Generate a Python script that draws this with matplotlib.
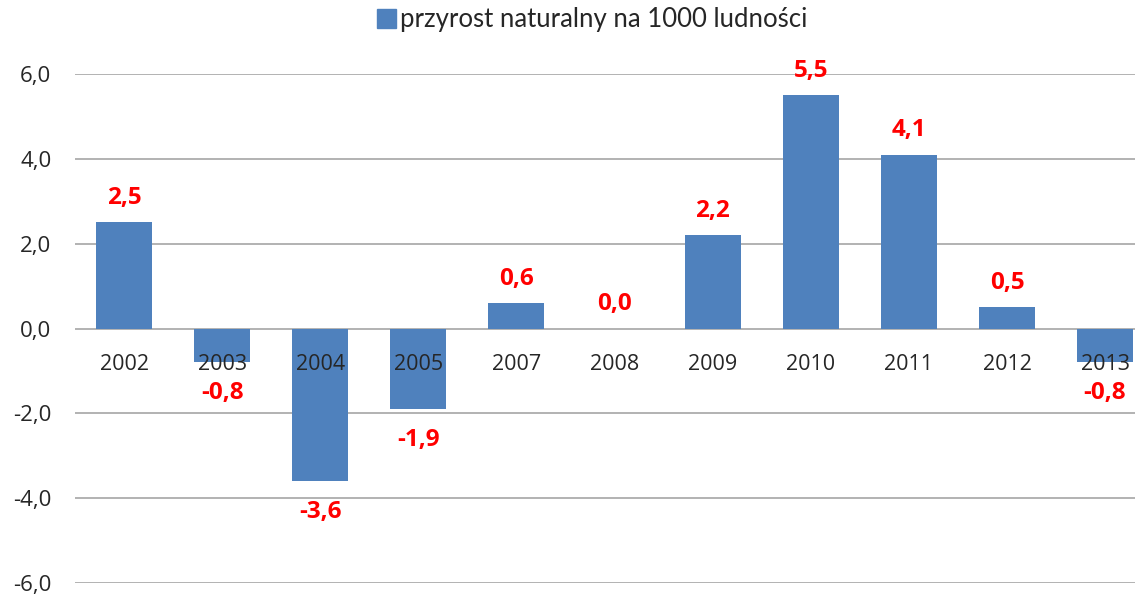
import matplotlib.pyplot as plt
from matplotlib.patches import Patch

# Data
years = ['2002', '2003', '2004', '2005', '2007', '2008',
         '2009', '2010', '2011', '2012', '2013']
values = [2.5, -0.8, -3.6, -1.9, 0.6, 0.0, 2.2, 5.5, 4.1, 0.5, -0.8]
y_ticks = [-6, -4, -2, 0, 2, 4, 6]
series_name = 'przyrost naturalny na 1000 ludności'

bar_color = '#4F81BD'
grid_color = '#A6A6A6'

fig = plt.figure(figsize=(11.35, 5.96), dpi=100)
ax = fig.add_axes([75 / 1135, 13 / 596, 1 - 75 / 1135, (583 - 74) / 596])

x = list(range(len(years)))
ax.bar(x, values, width=0.57, color=bar_color, zorder=3)

ax.set_ylim(-6, 6)
ax.set_xlim(-0.5, (1135 - 75) / 98.1 - 0.5)
ax.set_yticks(y_ticks)
ax.set_yticklabels([f'{t:.1f}'.replace('.', ',') for t in y_ticks],
                   fontsize=16, color='#262626', family='Open Sans')
ax.tick_params(axis='y', length=0, pad=17)
ax.set_xticks([])

for t in y_ticks:
    ax.axhline(t, color=grid_color, linewidth=1.2, zorder=1)

for s in ax.spines.values():
    s.set_visible(False)

# category labels just below the zero line
for i, yr in enumerate(years):
    ax.annotate(yr, (i, 0), xytext=(0, -26), textcoords='offset points',
                ha='center', va='center', fontsize=15.5, color='#262626',
                family='Open Sans', zorder=4)

# value labels
for i, v in enumerate(values):
    off = 17.5 if v >= 0 else -22
    ax.annotate(f'{v:.1f}'.replace('.', ','), (i, v), xytext=(0, off),
                textcoords='offset points', ha='center', va='center',
                fontsize=17.5, fontweight='bold', color='#FF0000',
                family='Open Sans', zorder=5)

leg = fig.legend(handles=[Patch(color=bar_color, label=series_name)],
                 loc='center', bbox_to_anchor=(592 / 1135, 1 - 20 / 596),
                 frameon=False, handlelength=0.75, handleheight=0.75,
                 handletextpad=0.15,
                 prop={'family': 'Lato', 'size': 18.5})
for t in leg.get_texts():
    t.set_color('#262626')

fig.savefig('out.png', dpi=100)
